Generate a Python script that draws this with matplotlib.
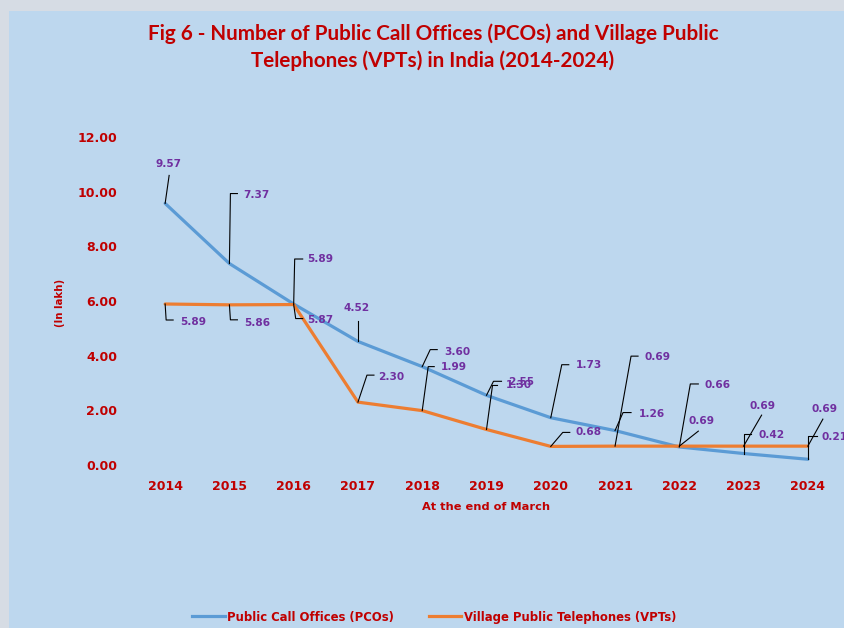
import matplotlib
matplotlib.use("Agg")
import matplotlib.pyplot as plt
from matplotlib.patches import Rectangle
from matplotlib.lines import Line2D

# ---- data ----
years = ["2014", "2015", "2016", "2017", "2018", "2019", "2020", "2021", "2022", "2023", "2024"]
pco = [9.57, 7.37, 5.89, 4.52, 3.60, 2.55, 1.73, 1.26, 0.66, 0.42, 0.21]
vpt = [5.89, 5.86, 5.87, 2.30, 1.99, 1.30, 0.68, 0.69, 0.69, 0.69, 0.69]
yticks = [0, 2, 4, 6, 8, 10, 12]
series_names = ["Public Call Offices (PCOs)", "Village Public Telephones (VPTs)"]

# label leader styles (pixel offsets): elbow dx, dy(up), hook length, text dx, dy, ha
pco_lbl = [(4, 28, 0, -1, 11, "center"), (1, 70, 7, 13, -1, "left"), (1, 45, 8, 13, 0, "left"),
           (0, 20, 0, -1, 13, "center"), (8, 17, 7, 14, -2, "left"), (7, 14, 8, 15, -1, "left"),
           (11, 53, 7, 14, 0, "left"), (8, 18, 8, 16, -1, "left"), (11, 63, 8, 14, -1, "left"),
           (0, 20, 7, 15, -1, "left"), (0, 23, 9, 14, -1, "left")]
vpt_lbl = [(1, -16, 7, 14, -2, "left"), (1, -15, 7, 14, -3, "left"), (2, -14, 7, 12, -1, "left"),
           (9, 27, 7, 11, -2, "left"), (6, 44, 6, 13, 0, "left"), (6, 44, 5, 13, 0, "left"),
           (12, 14, 7, 13, 0, "left"), (16, 90, 7, 13, -1, "left"), (19, 15, 0, 3, 10, "center"),
           (18, 31, 0, 1, 9, "center"), (15, 27, 0, 2, 10, "center")]

W, H = 845, 628
fig = plt.figure(figsize=(W / 100, H / 100), dpi=100)
fig.patch.set_facecolor("#d6dce4")
fig.patches.append(Rectangle((9 / W, 0), 1 - 9 / W, 1 - 11 / H, transform=fig.transFigure,
                             facecolor="#bdd7ee", edgecolor="none", zorder=-5))

left, right, top, bottom = 133, 840, 137, 465
ax = fig.add_axes([left / W, (H - bottom) / H, (right - left) / W, (bottom - top) / H])
ax.set_zorder(2)
ax.set_facecolor("none")
for s in ax.spines.values():
    s.set_visible(False)

red = "#c00000"
purple = "#7030a0"
x = list(range(len(years)))
ax.plot(x, pco, color="#5b9bd5", lw=2.3, solid_capstyle="round", zorder=3)
ax.plot(x, vpt, color="#ed7d31", lw=2.3, solid_capstyle="round", zorder=3)
ax.set_xlim(-0.5, len(years) - 0.5)
ax.set_ylim(0, 12)
ax.set_xticks(x)
ax.set_xticklabels(years)
ax.set_yticks(yticks)
ax.set_yticklabels([f"{v:.2f}" for v in yticks])
ax.tick_params(length=0, labelcolor=red, labelsize=9)
ax.tick_params(axis="y", pad=11.5)
ax.tick_params(axis="x", pad=11)
for t in ax.get_xticklabels() + ax.get_yticklabels():
    t.set_fontweight("bold")

ax.set_xlabel("At the end of March", color=red, fontsize=8.2, fontweight="bold", labelpad=6)
ax.set_ylabel("(In lakh)", color=red, fontsize=7.3, fontweight="bold", labelpad=0)
ax.yaxis.set_label_coords((65 - left) / (right - left), (bottom - 303) / (bottom - top))

# leader lines and data labels
to_px = ax.transData
to_data = ax.transData.inverted()
for vals, specs in ((pco, pco_lbl), (vpt, vpt_lbl)):
    for i, (v, sp) in enumerate(zip(vals, specs)):
        ex, ey, hook, tdx, tdy, ha = sp
        px, py = to_px.transform((i, v))
        elx, ely = px + ex, py + ey
        pts = [(px, py), (elx, ely)]
        if hook:
            pts.append((elx + hook, ely))
        dpts = to_data.transform(pts)
        ax.plot(dpts[:, 0], dpts[:, 1], color="black", lw=0.8, zorder=4, clip_on=False)
        tx, ty = to_data.transform((elx + tdx, ely + tdy))
        ax.text(tx, ty, f"{v:.2f}", color=purple, fontsize=7.6, fontweight="bold",
                ha=ha, va="center", zorder=5, clip_on=False)

# title
for line, yy in (("Fig 6 - Number of Public Call Offices (PCOs) and Village Public", 34),
                 ("Telephones (VPTs) in India (2014-2024)", 61)):
    fig.text(433 / W, 1 - yy / H, line, ha="center", va="center", color=red, fontsize=14.9,
             fontweight="bold", family=["Lato", "DejaVu Sans"])

# legend
handles = [Line2D([], [], color="#5b9bd5", lw=2.3), Line2D([], [], color="#ed7d31", lw=2.3)]
leg = fig.legend(handles, series_names, loc="center", bbox_to_anchor=(434 / W, 1 - 617 / H),
                 ncol=2, frameon=False, handlelength=2.8, handletextpad=0.2, columnspacing=3.0,
                 prop={"size": 8.4, "weight": "bold"})
for t in leg.get_texts():
    t.set_color(red)

fig.savefig("out.png", dpi=100, facecolor=fig.get_facecolor())
